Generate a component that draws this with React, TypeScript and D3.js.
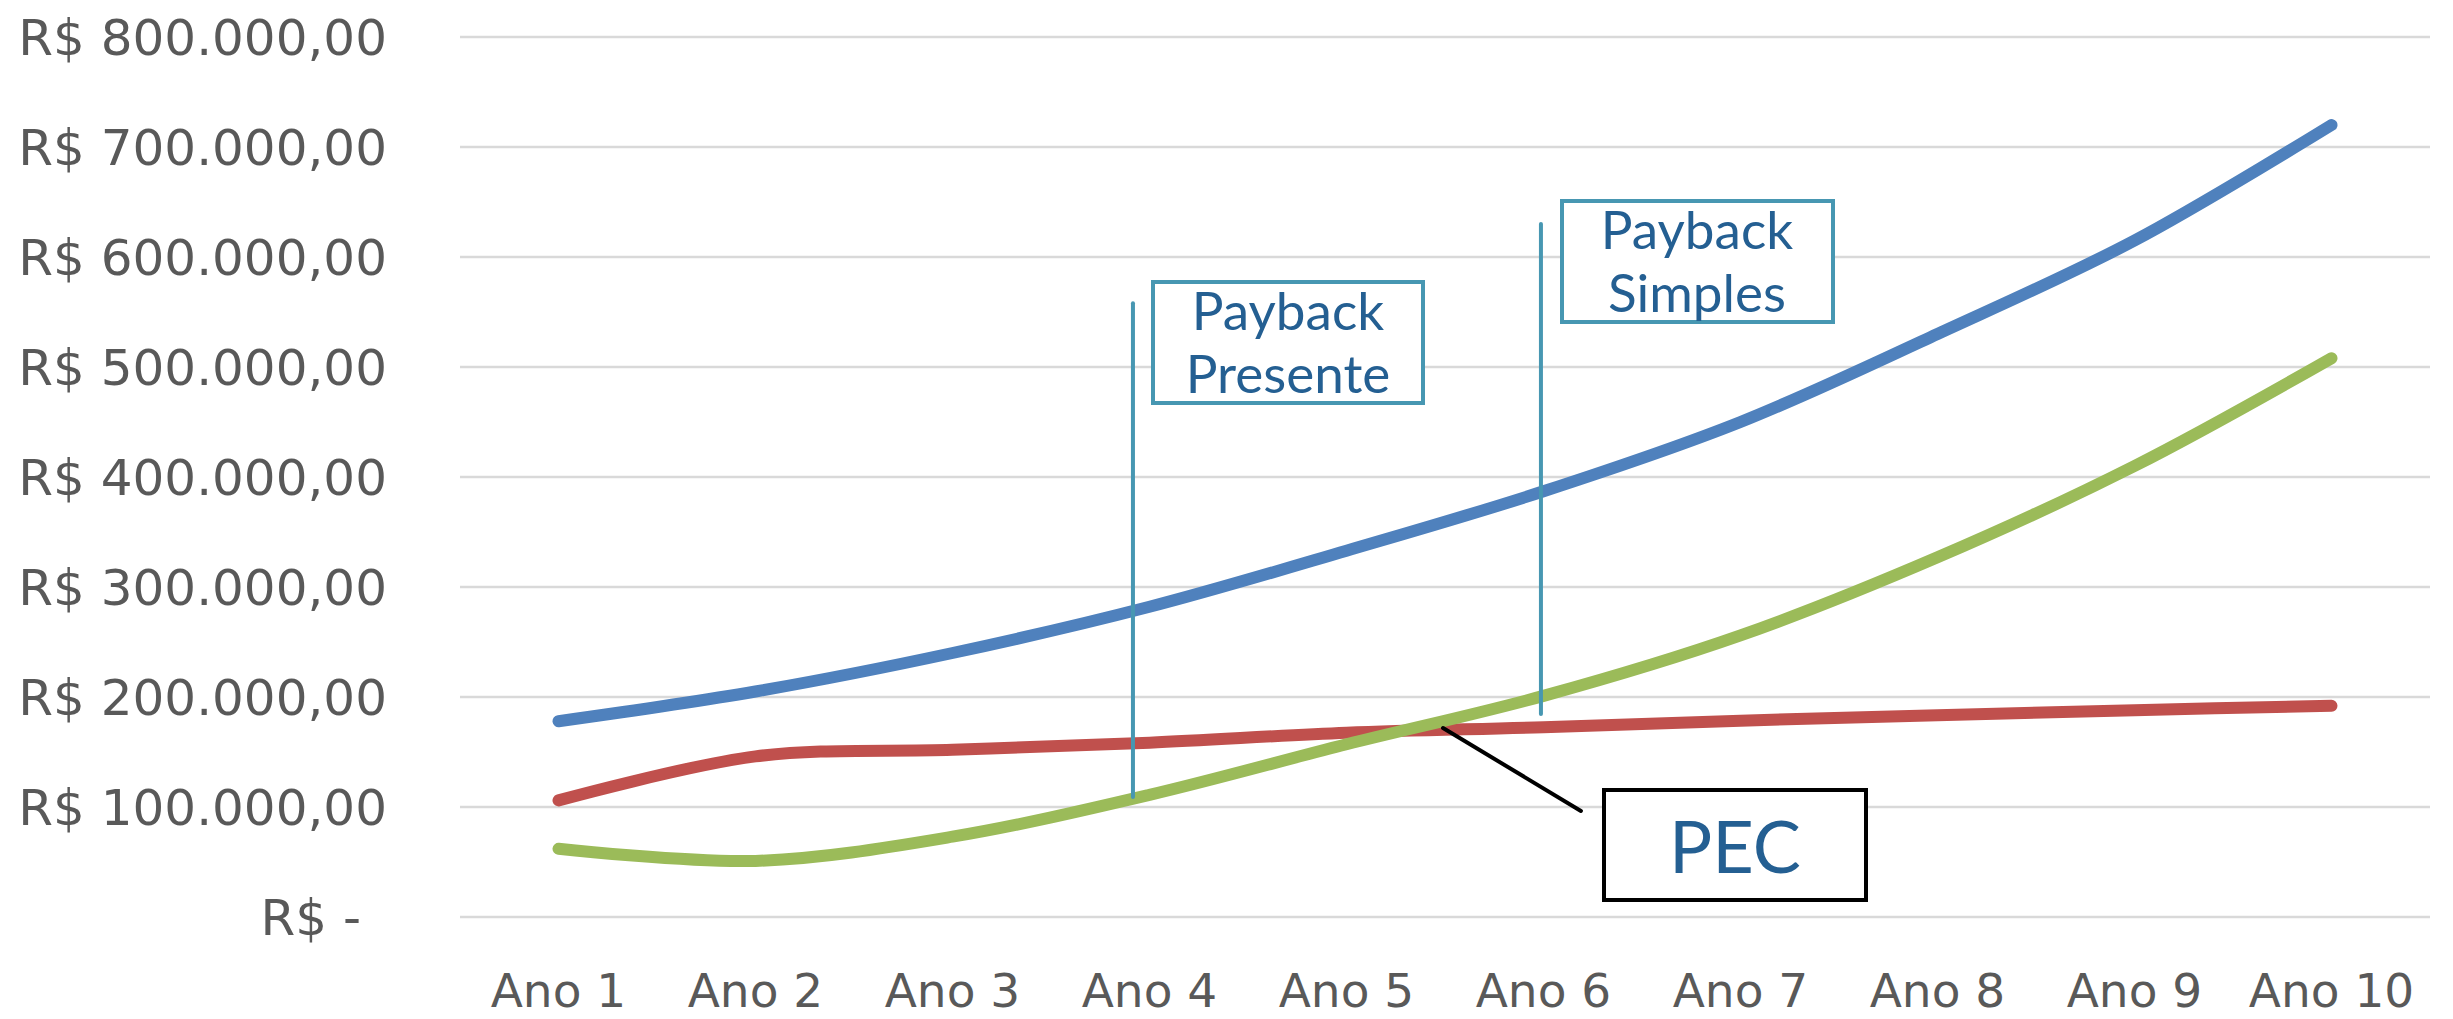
import React from "react";
import * as d3 from "d3";

const categories = ["Ano 1", "Ano 2", "Ano 3", "Ano 4", "Ano 5", "Ano 6", "Ano 7", "Ano 8", "Ano 9", "Ano 10"];
const blueValues = [178000, 205000, 240000, 282000, 333000, 387000, 450000, 530000, 615000, 720000];
const redValues = [106000, 146000, 152000, 158500, 167500, 172500, 178500, 183500, 188000, 192000];
const greenValues = [62000, 51000, 73000, 111000, 157000, 201000, 256000, 327000, 410000, 508000];
const yTicks = [0, 100000, 200000, 300000, 400000, 500000, 600000, 700000, 800000];

const W = 2453;
const H = 1019;
const plot = { left: 460, right: 2430, top: 37, bottom: 917 };

const fmt = (v: number) => {
  if (v === 0) return "R$ -";
  const s = d3.format(",.2f")(v);
  return "R$ " + s.replace(/,/g, "#").replace(".", ",").replace(/#/g, ".");
};

export default function App() {
  const x = d3.scaleBand<string>().domain(categories).range([plot.left, plot.right]).padding(0);
  const cx = (c: string) => (x(c) as number) + x.bandwidth() / 2;
  const y = d3.scaleLinear().domain([0, 800000]).range([plot.bottom, plot.top]);
  const xc = d3.scaleLinear().domain([1, 10]).range([cx(categories[0]), cx(categories[9])]);

  const line = d3
    .line<number>()
    .x((_, i) => cx(categories[i]))
    .y((d) => y(d))
    .curve(d3.curveCatmullRom.alpha(0.5));

  const series = [
    { values: blueValues, color: "#4F81BD" },
    { values: redValues, color: "#C0504D" },
    { values: greenValues, color: "#9BBB59" },
  ];

  const teal = "#4797B2";
  const textBlue = "#245F92";
  const labelFont = "'DejaVu Sans', sans-serif";
  const annFont = "Lato, 'Open Sans', sans-serif";

  const presX = xc(3.916);
  const simpX = xc(5.987);

  return (
    <svg
      width={W}
      height={H}
      style={{ position: "absolute", left: 0, top: 0, background: "#fff" }}
      xmlns="http://www.w3.org/2000/svg"
    >
      <rect x={0} y={0} width={W} height={H} fill="#fff" />
      {yTicks.map((t) => (
        <line key={t} x1={plot.left} x2={plot.right} y1={y(t)} y2={y(t)} stroke="#D9D9D9" strokeWidth={2.5} />
      ))}
      {yTicks.map((t) => (
        <text
          key={"l" + t}
          x={t === 0 ? 361 : 387}
          y={y(t)}
          dy="0.35em"
          textAnchor="end"
          fontFamily={labelFont}
          fontSize={50}
          fill="#595959"
        >
          {fmt(t)}
        </text>
      ))}
      {categories.map((c) => (
        <text key={c} x={cx(c)} y={1007} textAnchor="middle" fontFamily={labelFont} fontSize={47} fill="#595959">
          {c}
        </text>
      ))}
      {series.map((s, i) => (
        <path
          key={i}
          d={line(s.values) || ""}
          fill="none"
          stroke={s.color}
          strokeWidth={12}
          strokeLinecap="round"
          strokeLinejoin="round"
        />
      ))}
      <line x1={presX} x2={presX} y1={y(558000)} y2={y(109000)} stroke={teal} strokeWidth={4} strokeLinecap="round" />
      <rect x={1153} y={282} width={270} height={121} fill="#fff" stroke={teal} strokeWidth={4} />
      <text x={1288} y={330} textAnchor="middle" fontFamily={annFont} fontSize={53} fill={textBlue}>
        Payback
      </text>
      <text x={1288} y={393} textAnchor="middle" fontFamily={annFont} fontSize={53} fill={textBlue}>
        Presente
      </text>
      <line x1={simpX} x2={simpX} y1={y(630000)} y2={y(184500)} stroke={teal} strokeWidth={4} strokeLinecap="round" />
      <rect x={1562} y={201} width={271} height={121} fill="#fff" stroke={teal} strokeWidth={4} />
      <text x={1697} y={249} textAnchor="middle" fontFamily={annFont} fontSize={53} fill={textBlue}>
        Payback
      </text>
      <text x={1697} y={312} textAnchor="middle" fontFamily={annFont} fontSize={53} fill={textBlue}>
        Simples
      </text>
      <line x1={xc(5.49)} y1={y(171800)} x2={xc(6.19)} y2={y(96400)} stroke="#000" strokeWidth={4} strokeLinecap="round" />
      <rect x={1604} y={790} width={262} height={110} fill="#fff" stroke="#000" strokeWidth={4} />
      <text x={1735} y={873} textAnchor="middle" fontFamily={annFont} fontSize={72} fill={textBlue}>
        PEC
      </text>
    </svg>
  );
}
